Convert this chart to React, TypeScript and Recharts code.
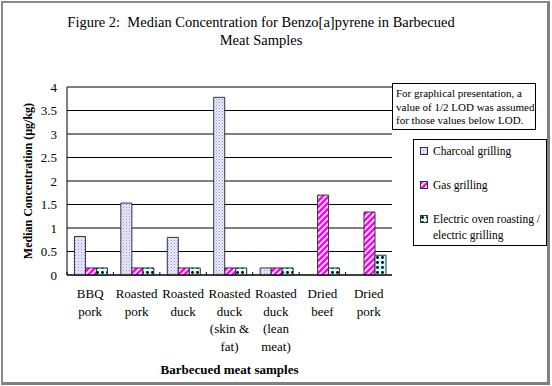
import React from "react";
import { BarChart, Bar, XAxis, YAxis, CartesianGrid, Legend } from "recharts";

const categories = [
  "BBQ\npork",
  "Roasted\npork",
  "Roasted\nduck",
  "Roasted\nduck\n(skin &\nfat)",
  "Roasted\nduck\n(lean\nmeat)",
  "Dried\nbeef",
  "Dried\npork",
];
const charcoal = [0.82, 1.53, 0.8, 3.78, 0.15, null, null];
const gas = [0.15, 0.15, 0.15, 0.15, 0.15, 1.7, 1.34];
const electric = [0.15, 0.15, 0.15, 0.15, 0.15, 0.15, 0.42];
const yTicks = [0, 0.5, 1, 1.5, 2, 2.5, 3, 3.5, 4];

const seriesNames = ["Charcoal grilling", "Gas grilling", "Electric oven roasting /\nelectric grilling"];
const noteLines = [
  "For graphical presentation, a",
  "value of 1/2 LOD was assumed",
  "for those values below LOD.",
];

const data = categories.map((name, i) => ({
  name,
  charcoal: charcoal[i],
  gas: gas[i],
  electric: electric[i],
}));

const serif = "'Liberation Serif', 'Times New Roman', serif";

function CategoryTick(props: any) {
  const { x, y, payload } = props;
  const lines = String(payload.value).split("\n");
  const edge = x - (payload.offset ?? 0);
  return (
    <g>
      <line x1={edge} x2={edge} y1={y} y2={y - 3} stroke="#000" />
      <text x={x} y={y + 23} textAnchor="middle" fontFamily={serif} fontSize={13} fill="#000">
        {lines.map((l, i) => (
          <tspan key={i} x={x} dy={i === 0 ? 0 : 17.5}>
            {l}
          </tspan>
        ))}
      </text>
    </g>
  );
}

const legendFills = ["url(#pCharcoal)", "url(#pGas)", "url(#pElectric)"];

function LegendBox() {
  return (
    <div
      style={{
        boxSizing: "border-box",
        width: 134,
        height: 107,
        border: "1px solid #000",
        background: "#fff",
        fontFamily: serif,
        fontSize: 11.5,
        color: "#000",
        paddingTop: 3,
        textAlign: "left",
      }}
    >
      {seriesNames.map((n, i) => (
        <div key={i} style={{ display: "flex", alignItems: "flex-start", marginLeft: 6, height: i === 2 ? 40 : 34 }}>
          <svg width={8} height={8} style={{ marginTop: 4, marginRight: 5, flex: "none" }}>
            <rect x={0.5} y={0.5} width={7} height={7} fill={legendFills[i]} stroke="#333" strokeWidth={1} />
          </svg>
          <div style={{ lineHeight: "16px", whiteSpace: "pre" }}>{n}</div>
        </div>
      ))}
    </div>
  );
}

export default function App() {
  return (
    <div style={{ position: "absolute", left: 0, top: 0, width: 552, height: 386, background: "#fff" }}>
      <div
        style={{
          position: "absolute",
          left: 1,
          top: 1,
          width: 549,
          height: 384,
          boxSizing: "border-box",
          borderLeft: "2px solid #8a8a8a",
          borderTop: "2px solid #8a8a8a",
          borderRight: "3px solid #808080",
          borderBottom: "3px solid #808080",
        }}
      />
      <div
        style={{
          position: "absolute",
          left: 41,
          top: 13,
          width: 440,
          textAlign: "center",
          fontFamily: serif,
          fontSize: 14.5,
          lineHeight: "18px",
          color: "#000",
        }}
      >
        Figure 2:&nbsp; Median Concentration for Benzo[a]pyrene in Barbecued
        <br />
        Meat Samples
      </div>
      <div style={{ position: "absolute", left: 0, top: 0 }}>
        <BarChart
          width={552}
          height={386}
          data={data}
          margin={{ top: 87, right: 160, bottom: 21, left: 37 }}
          barCategoryGap="16%"
          barGap={0}
        >
          <defs>
            <pattern id="pCharcoal" width={3} height={3} patternUnits="userSpaceOnUse">
              <rect width={3} height={3} fill="#ececff" />
              <rect x={0} y={0} width={1} height={1} fill="#8c8cf0" />
              <rect x={1.5} y={1.5} width={1} height={1} fill="#a8a8f4" />
            </pattern>
            <pattern id="pGas" width={6} height={6} patternUnits="userSpaceOnUse">
              <rect width={6} height={6} fill="#ff00ff" />
              <path d="M0,6 L6,0 M-1.5,1.5 L1.5,-1.5 M4.5,7.5 L7.5,4.5" stroke="#fff" strokeWidth={1.6} />
            </pattern>
            <pattern id="pElectric" width={5} height={5} patternUnits="userSpaceOnUse">
              <rect width={5} height={5} fill="#ccffff" />
              <circle cx={2.5} cy={2.5} r={1.4} fill="#000" />
            </pattern>
          </defs>
          <CartesianGrid vertical={false} stroke="#000" strokeWidth={1} />
          <XAxis
            dataKey="name"
            height={90}
            interval={0}
            axisLine={{ stroke: "#000" }}
            tickLine={false}
            tickSize={0}
            tickMargin={0}
            tick={<CategoryTick />}
            label={{
              content: ({ viewBox }: any) => (
                <text
                  x={viewBox.x + viewBox.width / 2}
                  y={374}
                  textAnchor="middle"
                  fontFamily={serif}
                  fontSize={13}
                  fontWeight="bold"
                  fill="#000"
                >
                  Barbecued meat samples
                </text>
              ),
            }}
          />
          <YAxis
            width={30}
            domain={[0, 4]}
            ticks={yTicks}
            interval={0}
            axisLine={{ stroke: "#000" }}
            tickLine={false}
            tickSize={0}
            tickMargin={10}
            tick={{ fontFamily: serif, fontSize: 13, fill: "#000" }}
            label={{
              content: ({ viewBox }: any) => {
                const cx = viewBox.x - 9;
                const cy = viewBox.y + viewBox.height / 2;
                return (
                  <text
                    x={cx}
                    y={cy}
                    transform={`rotate(-90 ${cx} ${cy})`}
                    textAnchor="middle"
                    dominantBaseline="central"
                    fontFamily={serif}
                    fontSize={12}
                    fontWeight="bold"
                    fill="#000"
                  >
                    Median Concentration (µg/kg)
                  </text>
                );
              },
            }}
          />
          <YAxis yAxisId="frame" orientation="right" width={0} tick={false} axisLine={{ stroke: "#000" }} tickLine={false} domain={[0, 4]} />
          <Legend
            layout="vertical"
            align="center"
            verticalAlign="middle"
            wrapperStyle={{ left: 413, top: 139, width: 134, height: 107 }}
            content={() => <LegendBox />}
          />
          <Bar dataKey="charcoal" name={seriesNames[0]} fill="url(#pCharcoal)" stroke="#333" strokeWidth={1} isAnimationActive={false} />
          <Bar dataKey="gas" name={seriesNames[1]} fill="url(#pGas)" stroke="#333" strokeWidth={1} isAnimationActive={false} />
          <Bar dataKey="electric" name={seriesNames[2]} fill="url(#pElectric)" stroke="#333" strokeWidth={1} isAnimationActive={false} />
        </BarChart>
      </div>
      <div
        style={{
          position: "absolute",
          left: 392,
          top: 83,
          width: 144,
          height: 47,
          boxSizing: "border-box",
          border: "1px solid #000",
          background: "#fff",
          fontFamily: serif,
          fontSize: 11,
          lineHeight: "13.5px",
          color: "#000",
          padding: "3px 0 0 3px",
          whiteSpace: "nowrap",
        }}
      >
        {noteLines.map((l, i) => (
          <div key={i}>{l}</div>
        ))}
      </div>
    </div>
  );
}
